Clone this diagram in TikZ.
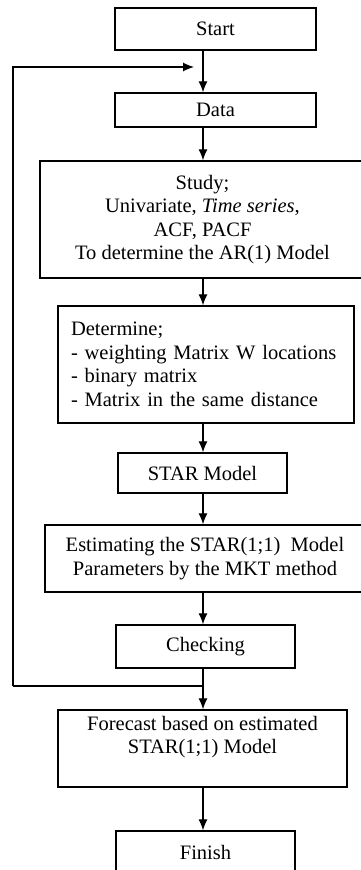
\documentclass[tikz,border=0pt]{standalone}
\usepackage{fontspec}
\setmainfont{Liberation Serif}
\usetikzlibrary{arrows.meta,positioning,calc}

\begin{document}
\begin{tikzpicture}
[x=1pt,y=-1pt,
box/.style={draw,line width=1.3pt,inner sep=3pt,align=center,
  font=\fontsize{20.5}{23.5}\selectfont},
flow/.style={line width=1.2pt,->,>={Latex[length=11pt,width=9pt]}},
back/.style={line width=1.2pt}
]
\useasboundingbox (0,0) rectangle (361,870);
\clip (0,0) rectangle (361,870);
%% spine of the flow
\coordinate (spine) at (203,0);
%% boxes
\node[box,minimum width=201pt,minimum height=42pt] (start) at (215.5,29) {Start};
\node[box,minimum width=201pt,minimum height=34pt] (data) at (215.5,110) {Data};
\node[box,minimum width=325pt,minimum height=117pt] (study) at (202.5,219.5)
{Study;\\ Univariate, \textit{Time series},\\ ACF, PACF\\ To determine the AR(1) Model};
\node[box,align=left,text width=270pt,inner xsep=13pt,minimum height=117pt] (determine) at (206,364.5)
{Determine;\\ - weighting Matrix W locations\\ - binary matrix\\ - Matrix in the same distance\\[3pt]};
\node[box,minimum width=169pt,minimum height=40pt] (starmodel) at (202.5,473) {STAR Model};
\node[box,minimum width=320pt,minimum height=67pt] (estimate) at (205,558.5)
{Estimating the STAR(1;1)\ \ Model\\ Parameters by the MKT method};
\node[box,minimum width=179pt,minimum height=43pt] (checking) at (205.5,646.5) {Checking};
\node[box,minimum width=289pt,minimum height=77pt] (forecast) at (202.5,748.5)
{Forecast based on estimated\\ STAR(1;1) Model\\[4pt]};
\node[box,minimum width=179pt,minimum height=43pt] (finish) at (205.5,852.5) {Finish};
%% arrows down the spine
\draw[flow] (start.south -| spine) -- (data.north -| spine);
\draw[flow] (data.south -| spine) -- (study.north -| spine);
\draw[flow] (study.south -| spine) -- (determine.north -| spine);
\draw[flow] (determine.south -| spine) -- (starmodel.north -| spine);
\draw[flow] (starmodel.south -| spine) -- (estimate.north -| spine);
\draw[flow] (estimate.south -| spine) -- (checking.north -| spine);
\draw[flow] (checking.south -| spine) -- (forecast.north -| spine);
\draw[flow] (forecast.south -| spine) -- (finish.north -| spine);
%% loop back to the data
\coordinate (loopout) at (203,686);
\coordinate (loopleft) at (13,686);
\coordinate (loopin) at (194,67);
\draw[back] (loopout) -- (loopleft);
\draw[flow] (loopleft) |- (loopin);
\end{tikzpicture}
\end{document}
